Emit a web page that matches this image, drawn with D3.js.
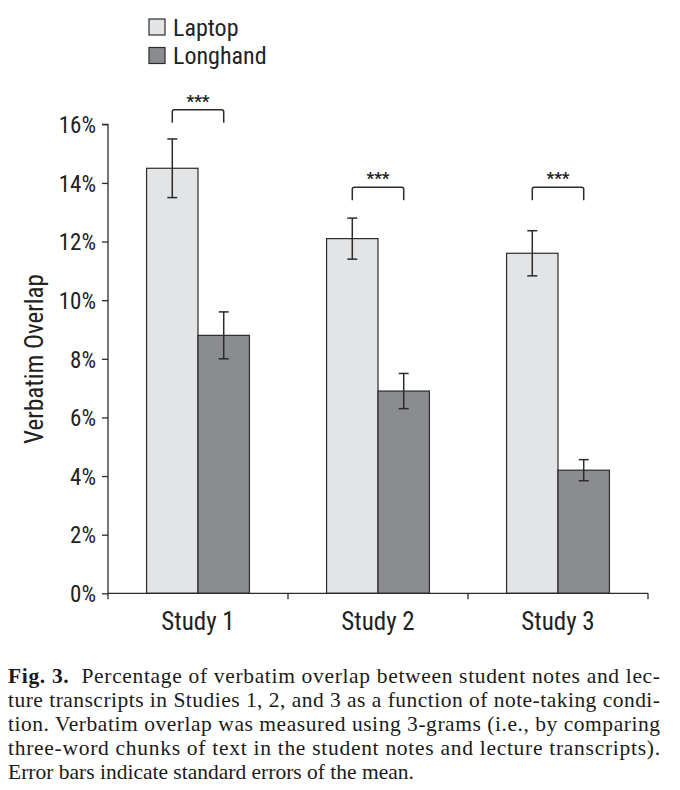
<!DOCTYPE html>
<html>
<head>
<meta charset="utf-8">
<script src="https://cdn.jsdelivr.net/npm/d3@7"></script>
<style>
  body { margin: 0; background: #fff; }
  .cond { font-family: "Liberation Sans Narrow", "Roboto Condensed", "DejaVu Sans Condensed", sans-serif; }
  .cap { font-family: "Liberation Serif", "DejaVu Serif", serif; }
</style>
</head>
<body>
<svg id="chart" width="680" height="790"></svg>
<script>
// data
var studies = ["Study 1", "Study 2", "Study 3"];
var conditions = ["Laptop", "Longhand"];
var laptopMean = [14.5, 12.1, 11.6];
var laptopSE = [1.0, 0.7, 0.77];
var longhandMean = [8.8, 6.9, 4.2];
var longhandSE = [0.8, 0.6, 0.36];
var sigLevel = [16.5, 13.85, 13.85];   // where the *** bracket sits
var sigLabel = ["***", "***", "***"];
var yTicks = [0, 2, 4, 6, 8, 10, 12, 14, 16];
var captionLines = [
    "Percentage of verbatim overlap between student notes and lec-",
    "ture transcripts in Studies 1, 2, and 3 as a function of note-taking condi-",
    "tion. Verbatim overlap was measured using 3-grams (i.e., by comparing",
    "three-word chunks of text in the student notes and lecture transcripts).",
    "Error bars indicate standard errors of the mean."
];

var colors = {"Laptop": "#e3e4e6", "Longhand": "#8b8c8f"};
var stroke = "#2b2b2b";

var svg = d3.select("#chart");
var plotLeft = 108, plotRight = 648, plotTop = 124.3, plotBottom = 593.3;

var x = d3.scaleBand().domain(studies).range([plotLeft, plotRight]).paddingInner(0).paddingOuter(0);
var inner = d3.scaleBand().domain(conditions).range([0, x.bandwidth()]).paddingOuter(0.75).paddingInner(0);
var y = d3.scaleLinear().domain([0, 16]).range([plotBottom, plotTop]);

// build rows for the bars
var rows = [];
studies.forEach(function(s, i){
    rows.push({study: s, cond: "Laptop", mean: laptopMean[i], se: laptopSE[i]});
    rows.push({study: s, cond: "Longhand", mean: longhandMean[i], se: longhandSE[i]});
});

// y axis
var yAxis = d3.axisLeft(y).tickValues(yTicks).tickSize(6).tickPadding(6)
    .tickFormat(function(d){ return d + "%"; });
var gy = svg.append("g").attr("transform", "translate(" + plotLeft + ",0)").call(yAxis);
gy.select(".domain").attr("stroke", stroke).attr("stroke-width", 1.3).attr("d", "M-6," + plotTop + "H0V" + plotBottom);
gy.selectAll(".tick line").attr("stroke", stroke).attr("stroke-width", 1.3);
gy.selectAll(".tick text").attr("class", "cond").attr("font-size", 23).attr("fill", "#222").attr("dy", "0.36em");

// bars
svg.selectAll("rect.bar")
    .data(rows)
    .enter()
    .append("rect")
    .attr("class", "bar")
    .attr("x", function(d){ return x(d.study) + inner(d.cond); })
    .attr("y", function(d){ return y(d.mean); })
    .attr("width", inner.bandwidth())
    .attr("height", function(d){ return y(0) - y(d.mean); })
    .attr("fill", function(d){ return colors[d.cond]; })
    .attr("stroke", stroke)
    .attr("stroke-width", 1.2);

// error bars
var eb = svg.selectAll("g.err").data(rows).enter().append("g").attr("class", "err")
    .attr("transform", function(d){ return "translate(" + (x(d.study) + inner(d.cond) + inner.bandwidth() / 2) + ",0)"; });
eb.append("line").attr("x1", 0).attr("x2", 0)
    .attr("y1", function(d){ return y(d.mean + d.se); })
    .attr("y2", function(d){ return y(d.mean - d.se); })
    .attr("stroke", stroke).attr("stroke-width", 1.5);
eb.append("line").attr("x1", -5).attr("x2", 5)
    .attr("y1", function(d){ return y(d.mean + d.se); })
    .attr("y2", function(d){ return y(d.mean + d.se); })
    .attr("stroke", stroke).attr("stroke-width", 1.5);
eb.append("line").attr("x1", -5).attr("x2", 5)
    .attr("y1", function(d){ return y(d.mean - d.se); })
    .attr("y2", function(d){ return y(d.mean - d.se); })
    .attr("stroke", stroke).attr("stroke-width", 1.5);

// x axis
var xAxis = d3.axisBottom(x).tickSize(0).tickPadding(14);
var gx = svg.append("g").attr("transform", "translate(0," + plotBottom + ")").call(xAxis);
gx.select(".domain").attr("stroke", stroke).attr("stroke-width", 1.3).attr("d", "M" + plotLeft + ",0H" + plotRight);
gx.selectAll(".tick text").attr("class", "cond").attr("font-size", 25).attr("fill", "#222").attr("dy", "0.9em");
// ticks at band edges
var edges = studies.map(function(s){ return x(s); }).concat([x(studies[studies.length - 1]) + x.bandwidth()]);
gx.selectAll("line.edge").data(edges).enter().append("line")
    .attr("class", "edge")
    .attr("x1", function(d){ return d; }).attr("x2", function(d){ return d; })
    .attr("y1", 0).attr("y2", 6)
    .attr("stroke", stroke).attr("stroke-width", 1.3);

// significance brackets
studies.forEach(function(s, i){
    var x1 = x(s) + inner("Laptop") + inner.bandwidth() / 2;
    var x2 = x(s) + inner("Longhand") + inner.bandwidth() / 2;
    var yb = y(sigLevel[i]);
    svg.append("path")
        .attr("d", "M" + x1 + "," + (yb + 13) + "V" + (yb + 2) + "Q" + x1 + "," + yb + " " + (x1 + 2) + "," + yb +
            "H" + (x2 - 2) + "Q" + x2 + "," + yb + " " + x2 + "," + (yb + 2) + "V" + (yb + 13))
        .attr("fill", "none").attr("stroke", stroke).attr("stroke-width", 1.5);
    svg.append("text")
        .attr("class", "cond")
        .attr("x", (x1 + x2) / 2).attr("y", yb - 3)
        .attr("text-anchor", "middle")
        .attr("font-size", 17).attr("font-weight", "bold").attr("fill", "#222")
        .text(sigLabel[i]);
});

// y axis title
svg.append("text")
    .attr("class", "cond")
    .attr("transform", "translate(43,359) rotate(-90)")
    .attr("text-anchor", "middle")
    .attr("font-size", 25).attr("fill", "#222")
    .text("Verbatim Overlap");

// legend
var legend = svg.selectAll("g.legend").data(conditions).enter().append("g").attr("class", "legend")
    .attr("transform", function(d, i){ return "translate(149," + (19 + i * 28.5) + ")"; });
legend.append("rect").attr("width", 16).attr("height", 16)
    .attr("fill", function(d){ return colors[d]; })
    .attr("stroke", stroke).attr("stroke-width", 1.2);
legend.append("text").attr("class", "cond")
    .attr("x", 24).attr("y", 16.5)
    .attr("font-size", 24).attr("fill", "#222")
    .text(function(d){ return d; });

// caption
var cap = svg.append("g").attr("class", "cap");
captionLines.forEach(function(line, i){
    var t = cap.append("text")
        .attr("x", 8).attr("y", 683 + i * 24)
        .attr("font-size", 21.5).attr("fill", "#1a1a1a");
    if(i < captionLines.length - 1)
        t.attr("textLength", 652).attr("lengthAdjust", "spacing");
    if(i == 0)
    {
        t.append("tspan").attr("font-weight", "bold").text("Fig. 3.");
        t.append("tspan").text("\u00a0 " + line);
    }
    else
        t.text(line);
});
</script>
</body>
</html>
